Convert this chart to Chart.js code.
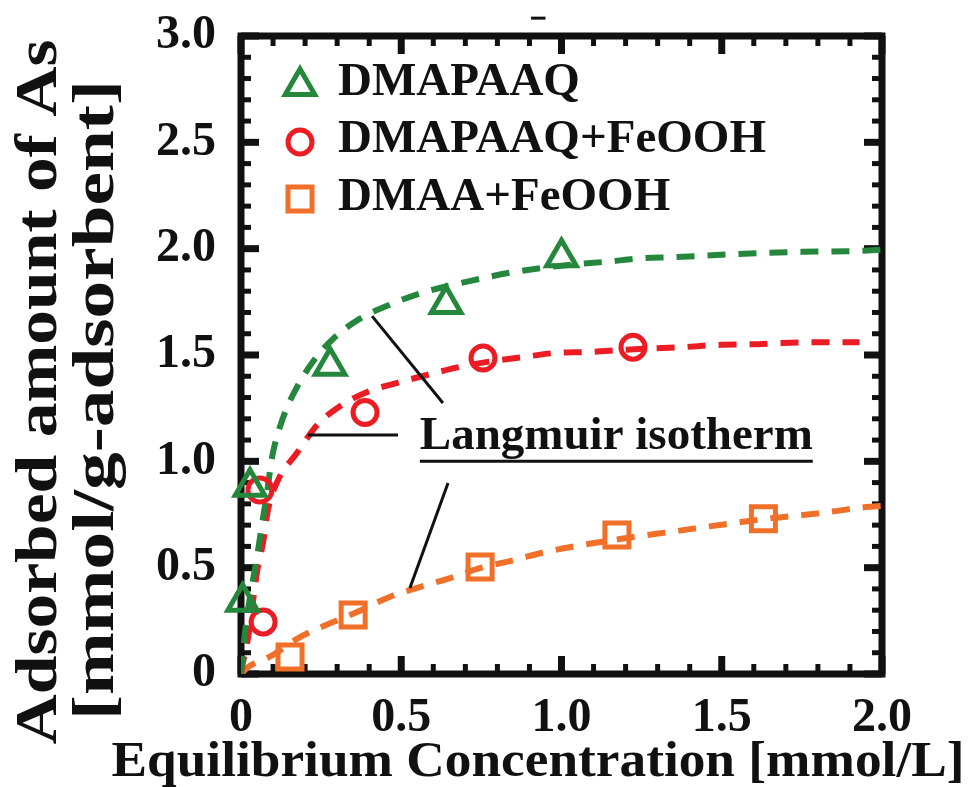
<!DOCTYPE html>
<html lang="en">
<head>
<meta charset="utf-8">
<title>Adsorbed amount of As</title>
<script src="https://cdn.jsdelivr.net/npm/chart.js@4.4.1/dist/chart.umd.min.js"></script>
<style>
  html, body { margin: 0; padding: 0; background: #fff; }
  #wrap { width: 972px; height: 787px; }
</style>
</head>
<body>
<div id="wrap"><canvas id="isoChart" width="972" height="787"></canvas></div>
<script>
const dmapaaqX = [0.005, 0.028, 0.278, 0.64, 1.0];
const dmapaaqY = [0.34, 0.88, 1.45, 1.74, 1.96];
const dmapaaqFeX = [0.059, 0.069, 0.387, 0.755, 1.223];
const dmapaaqFeY = [0.865, 0.245, 1.23, 1.486, 1.537];
const dmaaFeX = [0.153, 0.35, 0.746, 1.173, 1.63];
const dmaaFeY = [0.08, 0.277, 0.503, 0.654, 0.73];

// Langmuir fit curves
const fitGreenX = [0, 0.012, 0.03, 0.05, 0.065, 0.08, 0.097, 0.13, 0.175, 0.23, 0.29, 0.37, 0.47, 0.56, 0.75, 0.85, 1.0, 1.15, 1.25, 1.35, 1.55, 1.75, 1.94, 2.0];
const fitGreenY = [0, 0.19, 0.38, 0.55, 0.70, 0.84, 1.02, 1.2, 1.35, 1.48, 1.58, 1.67, 1.74, 1.79, 1.86, 1.89, 1.92, 1.94, 1.955, 1.96, 1.975, 1.985, 1.99, 1.995];
const fitRedX = [0, 0.003, 0.022, 0.05, 0.069, 0.084, 0.115, 0.175, 0.237, 0.31, 0.40, 0.49, 0.59, 0.68, 0.78, 0.88, 0.985, 1.083, 1.2, 1.38, 1.48, 1.59, 1.69, 1.785, 1.93];
const fitRedY = [0, 0.03, 0.17, 0.48, 0.62, 0.77, 0.91, 1.04, 1.17, 1.26, 1.33, 1.37, 1.41, 1.443, 1.47, 1.49, 1.51, 1.514, 1.525, 1.537, 1.547, 1.55, 1.556, 1.56, 1.56];
const fitOrangeX = [0, 0.02, 0.1, 0.18, 0.28, 0.36, 0.46, 0.56, 0.65, 0.75, 0.85, 0.94, 1.04, 1.14, 1.25, 1.35, 1.44, 1.54, 1.64, 1.74, 1.85, 1.95, 2.0];
const fitOrangeY = [0, 0.03, 0.09, 0.17, 0.24, 0.29, 0.36, 0.41, 0.45, 0.50, 0.535, 0.57, 0.60, 0.625, 0.65, 0.67, 0.69, 0.71, 0.73, 0.745, 0.765, 0.785, 0.79];

const seriesNames = ['DMAPAAQ', 'DMAPAAQ+FeOOH', 'DMAA+FeOOH'];
const xTickLabels = ['0', '0.5', '1.0', '1.5', '2.0'];
const yTickLabels = ['0', '0.5', '1.0', '1.5', '2.0', '2.5', '3.0'];
const xTitle = 'Equilibrium Concentration [mmol/L]';
const yTitle = ['Adsorbed amount of As', '[mmol/g-adsorbent]'];
const noteText = 'Langmuir isotherm';

const GREEN = '#24873b';
const RED = '#ec1c24';
const ORANGE = '#f07029';
const SERIF = "'Liberation Serif', 'Times New Roman', serif";

function pts(xs, ys) {
  return xs.map((x, i) => ({ x: x, y: ys[i] }));
}

function markerSet(label, xs, ys, color, style, radius) {
  return {
    label: label,
    data: pts(xs, ys),
    showLine: false,
    pointStyle: style,
    pointRadius: radius,
    pointHoverRadius: radius,
    pointBorderWidth: 5,
    pointBorderColor: color,
    pointBackgroundColor: 'rgba(0,0,0,0)',
    borderColor: color,
    clip: false,
    order: 0
  };
}

function fitSet(xs, ys, color) {
  return {
    data: pts(xs, ys),
    showLine: true,
    pointRadius: 0,
    borderColor: color,
    borderWidth: 6,
    borderDash: [18, 13],
    cubicInterpolationMode: 'monotone',
    fill: false,
    order: 1
  };
}

function line(ctx, x1, y1, x2, y2) {
  ctx.beginPath();
  ctx.moveTo(x1, y1);
  ctx.lineTo(x2, y2);
  ctx.stroke();
}

// draws text stretched along its length to a given width
function stretchedText(ctx, text, cx, baseY, width, size, rot) {
  ctx.save();
  ctx.font = 'bold ' + size + 'px ' + SERIF;
  const w = ctx.measureText(text).width;
  ctx.translate(cx, baseY);
  ctx.rotate(rot);
  ctx.scale(width / w, 1);
  ctx.textAlign = 'center';
  ctx.textBaseline = 'alphabetic';
  ctx.fillText(text, 0, 0);
  ctx.restore();
}

// frame with inward ticks on all four sides
const framePlugin = {
  id: 'frame',
  beforeDatasetsDraw(chart) {
    const { ctx, chartArea: a, scales: { x, y } } = chart;
    ctx.save();
    ctx.strokeStyle = '#111';
    ctx.lineCap = 'butt';
    for (let i = 0; i <= 20; i++) {
      const major = i % 5 === 0;
      const len = major ? 18 : 10;
      ctx.lineWidth = major ? 7 : 5;
      const px = x.getPixelForValue(i / 10);
      line(ctx, px, a.bottom, px, a.bottom - len);
      line(ctx, px, a.top, px, a.top + len);
    }
    for (let i = 0; i <= 30; i++) {
      const major = i % 5 === 0;
      const len = major ? 18 : 10;
      ctx.lineWidth = major ? 7 : 5;
      const py = y.getPixelForValue(i / 10);
      line(ctx, a.left, py, a.left + len, py);
      line(ctx, a.right, py, a.right - len, py);
    }
    ctx.lineWidth = 7;
    ctx.strokeRect(a.left, a.top, a.right - a.left, a.bottom - a.top);
    ctx.restore();
  }
};

// legend, note lines and axis titles
const notesPlugin = {
  id: 'notes',
  afterDraw(chart) {
    const { ctx, scales: { x, y } } = chart;
    ctx.save();

    // legend
    const legendRows = [
      { color: GREEN, style: 'triangle', r: 17, my: 86, ty: 95 },
      { color: RED, style: 'circle', r: 12, my: 142, ty: 152 },
      { color: ORANGE, style: 'rect', r: 17, my: 199, ty: 210 }
    ];
    legendRows.forEach((row, i) => {
      ctx.strokeStyle = row.color;
      ctx.fillStyle = 'rgba(0,0,0,0)';
      ctx.lineWidth = 5;
      Chart.helpers.drawPoint(ctx, { pointStyle: row.style, radius: row.r, borderWidth: 5, rotation: 0 }, 300, row.my);
      ctx.fillStyle = '#111';
      ctx.font = 'bold 47px ' + SERIF;
      ctx.textAlign = 'left';
      ctx.textBaseline = 'alphabetic';
      ctx.fillText(seriesNames[i], 338, row.ty);
    });

    // pointer lines to the fitted curves
    ctx.strokeStyle = '#111';
    ctx.lineWidth = 3;
    line(ctx, x.getPixelForValue(0.409), y.getPixelForValue(1.683), x.getPixelForValue(0.630), y.getPixelForValue(1.274));
    line(ctx, x.getPixelForValue(0.209), y.getPixelForValue(1.124), x.getPixelForValue(0.49), y.getPixelForValue(1.124));
    line(ctx, x.getPixelForValue(0.646), y.getPixelForValue(0.898), x.getPixelForValue(0.527), y.getPixelForValue(0.404));

    // note text, underlined
    ctx.fillStyle = '#111';
    ctx.font = 'bold 47px ' + SERIF;
    ctx.textAlign = 'left';
    ctx.textBaseline = 'alphabetic';
    const nx = x.getPixelForValue(0.558);
    const ny = y.getPixelForValue(1.057);
    ctx.fillText(noteText, nx, ny);
    const nw = ctx.measureText(noteText).width;
    ctx.lineWidth = 3;
    line(ctx, nx, ny + 12, nx + nw, ny + 12);

    // small stray mark above the frame
    ctx.lineWidth = 3;
    line(ctx, x.getPixelForValue(0.905), y.getPixelForValue(3.084), x.getPixelForValue(0.95), y.getPixelForValue(3.084));

    // axis titles
    ctx.fillStyle = '#111';
    stretchedText(ctx, xTitle, 538, 776, 853, 51, 0);
    stretchedText(ctx, yTitle[0], 56, 392, 705, 59, -Math.PI / 2);
    stretchedText(ctx, yTitle[1], 113, 400, 640, 60, -Math.PI / 2);

    ctx.restore();
  }
};

const tickFont = { family: SERIF, size: 48, weight: 'bold' };

new Chart(document.getElementById('isoChart'), {
  type: 'scatter',
  data: {
    datasets: [
      markerSet(seriesNames[0], dmapaaqX, dmapaaqY, GREEN, 'triangle', 17),
      markerSet(seriesNames[1], dmapaaqFeX, dmapaaqFeY, RED, 'circle', 12),
      markerSet(seriesNames[2], dmaaFeX, dmaaFeY, ORANGE, 'rect', 17),
      fitSet(fitGreenX, fitGreenY, GREEN),
      fitSet(fitRedX, fitRedY, RED),
      fitSet(fitOrangeX, fitOrangeY, ORANGE)
    ]
  },
  options: {
    responsive: false,
    animation: false,
    devicePixelRatio: 1,
    layout: { padding: { top: 36, right: 90, left: 0, bottom: 0 } },
    plugins: {
      legend: { display: false },
      tooltip: { enabled: false },
      title: { display: false }
    },
    scales: {
      x: {
        type: 'linear',
        min: 0,
        max: 2,
        grid: { display: false, drawTicks: false },
        border: { display: false },
        afterFit: (s) => { s.height = 113; s.paddingLeft = 0; s.paddingRight = 0; },
        ticks: {
          stepSize: 0.5,
          autoSkip: false,
          maxRotation: 0,
          padding: 16,
          color: '#111',
          font: tickFont,
          callback: (v, i) => xTickLabels[i]
        }
      },
      y: {
        type: 'linear',
        min: 0,
        max: 3,
        grid: { display: false, drawTicks: false },
        border: { display: false },
        afterFit: (s) => { s.width = 241; s.paddingTop = 0; s.paddingBottom = 0; },
        ticks: {
          stepSize: 0.5,
          autoSkip: false,
          padding: 25,
          color: '#111',
          font: tickFont,
          callback: (v, i) => yTickLabels[i]
        }
      }
    }
  },
  plugins: [framePlugin, notesPlugin]
});
</script>
</body>
</html>
